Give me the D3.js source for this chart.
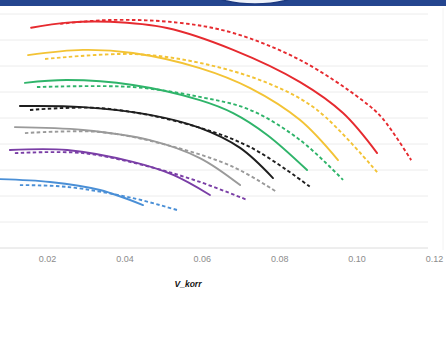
<!DOCTYPE html>
<html>
<head>
<meta charset="utf-8">
<script src="https://cdn.jsdelivr.net/npm/d3@7"></script>
<style>
  html, body { margin: 0; padding: 0; background: #fff; }
  svg { display: block; }
</style>
</head>
<body>
<svg id="chart" width="446" height="338"></svg>
<script>
// Performance curves: measured (solid) vs. model (dashed), one pair per setting
const xTicks = [0.02, 0.04, 0.06, 0.08, 0.10, 0.12];
const xTickLabels = ["0.02", "0.04", "0.06", "0.08", "0.10", "0.12"];
const yGrid = [0, 1, 2, 3, 4, 5, 6, 7, 8, 9];
const xTitle = "V_korr";

const seriesNames = ["red", "yellow", "green", "black", "gray", "purple", "blue"];
const seriesColors = ["#e62a2f", "#f3c335", "#2fb46a", "#1e1e1e", "#9a9a9a", "#7a3ea6", "#4a8fd6"];

const solidRed = [[0.0159, 8.47], [0.0252, 8.67], [0.0363, 8.70], [0.0510, 8.46], [0.0681, 7.62], [0.0854, 6.38], [0.0965, 5.19], [0.1053, 3.65]];
const dashRed = [[0.0234, 8.62], [0.0363, 8.77], [0.0537, 8.67], [0.0681, 8.27], [0.0854, 7.23], [0.1014, 5.69], [0.1066, 5.00], [0.1141, 3.38]];
const solidYellow = [[0.0151, 7.42], [0.0293, 7.62], [0.0422, 7.50], [0.0595, 6.92], [0.0725, 6.15], [0.0854, 4.92], [0.0952, 3.38]];
const dashYellow = [[0.0195, 7.27], [0.0422, 7.46], [0.0595, 7.12], [0.0769, 6.35], [0.0898, 5.31], [0.1053, 2.92]];
const solidGreen = [[0.0143, 6.35], [0.0252, 6.46], [0.0422, 6.27], [0.0595, 5.69], [0.0681, 5.19], [0.0769, 4.35], [0.0872, 3.00]];
const dashGreen = [[0.0174, 6.19], [0.0422, 6.19], [0.0595, 5.81], [0.0725, 5.31], [0.0854, 4.15], [0.0965, 2.62]];
const solidBlack = [[0.0130, 5.46], [0.0293, 5.42], [0.0466, 5.12], [0.0595, 4.62], [0.0699, 3.85], [0.0784, 2.69]];
const dashBlack = [[0.0156, 5.31], [0.0337, 5.38], [0.0551, 4.81], [0.0725, 3.88], [0.0880, 2.35]];
const solidGray = [[0.0117, 4.65], [0.0293, 4.54], [0.0466, 4.15], [0.0595, 3.46], [0.0699, 2.42]];
const dashGray = [[0.0143, 4.42], [0.0337, 4.46], [0.0510, 3.96], [0.0681, 3.12], [0.0794, 2.15]];
const solidPurple = [[0.0104, 3.77], [0.0252, 3.77], [0.0422, 3.31], [0.0526, 2.81], [0.0621, 2.04]];
const dashPurple = [[0.0117, 3.65], [0.0293, 3.65], [0.0466, 3.12], [0.0595, 2.54], [0.0717, 1.85]];
const solidBlue = [[0.0079, 2.65], [0.0208, 2.54], [0.0337, 2.23], [0.0448, 1.65]];
const dashBlue = [[0.0130, 2.42], [0.0252, 2.35], [0.0422, 1.92], [0.0536, 1.46]];

const solidSeries = [solidRed, solidYellow, solidGreen, solidBlack, solidGray, solidPurple, solidBlue];
const dashSeries = [dashRed, dashYellow, dashGreen, dashBlack, dashGray, dashPurple, dashBlue];

const svg = d3.select("#chart");

const x = d3.scaleLinear().domain([0.02, 0.12]).range([47, 434]);
const y = d3.scaleLinear().domain([0, 9]).range([248, 14]);

// header band with the rounded badge at its centre
svg.append("rect").attr("x", 0).attr("y", 0).attr("width", 446).attr("height", 6).attr("fill", "#24458f");
svg.append("ellipse").attr("cx", 255).attr("cy", -6).attr("rx", 40).attr("ry", 10)
  .attr("fill", "#eef2fa").attr("stroke", "#1d3a80").attr("stroke-width", 1.5);

// horizontal grid
svg.append("g")
  .selectAll("line")
  .data(yGrid)
  .join("line")
  .attr("x1", 0).attr("x2", 428)
  .attr("y1", d => y(d)).attr("y2", d => y(d))
  .attr("stroke", d => d === 0 ? "#dcdcdc" : "#ececec")
  .attr("stroke-width", 1);

svg.append("line").attr("x1", 443).attr("x2", 443).attr("y1", 8).attr("y2", 250)
  .attr("stroke", "#f2f2f2");

// x axis labels
const xAxis = d3.axisBottom(x).tickValues(xTicks)
  .tickFormat((d, i) => xTickLabels[i]).tickSize(0).tickPadding(8);
const gx = svg.append("g").attr("transform", `translate(0, ${y(0)})`).call(xAxis);
gx.select(".domain").remove();
gx.selectAll("text")
  .attr("fill", "#8c8c8c")
  .style("font-family", "Liberation Sans, Arial, sans-serif")
  .style("font-size", "9px");

svg.append("text")
  .attr("x", 188).attr("y", 287)
  .attr("text-anchor", "middle")
  .style("font-family", "Liberation Sans, Arial, sans-serif")
  .style("font-size", "8.5px")
  .style("font-weight", "bold")
  .style("font-style", "italic")
  .attr("fill", "#111")
  .text(xTitle);

const line = d3.line()
  .x(d => x(d[0]))
  .y(d => y(d[1]))
  .curve(d3.curveCatmullRom.alpha(0.5));

const curves = svg.append("g").attr("fill", "none").attr("stroke-linecap", "round");

dashSeries.forEach((pts, i) => {
  curves.append("path")
    .attr("d", line(pts))
    .attr("stroke", seriesColors[i])
    .attr("stroke-width", 1.9)
    .attr("stroke-dasharray", "3.5,2.5")
    .attr("stroke-linecap", "butt");
});

solidSeries.forEach((pts, i) => {
  curves.append("path")
    .attr("d", line(pts))
    .attr("stroke", seriesColors[i])
    .attr("stroke-width", 1.9);
});
</script>
</body>
</html>
